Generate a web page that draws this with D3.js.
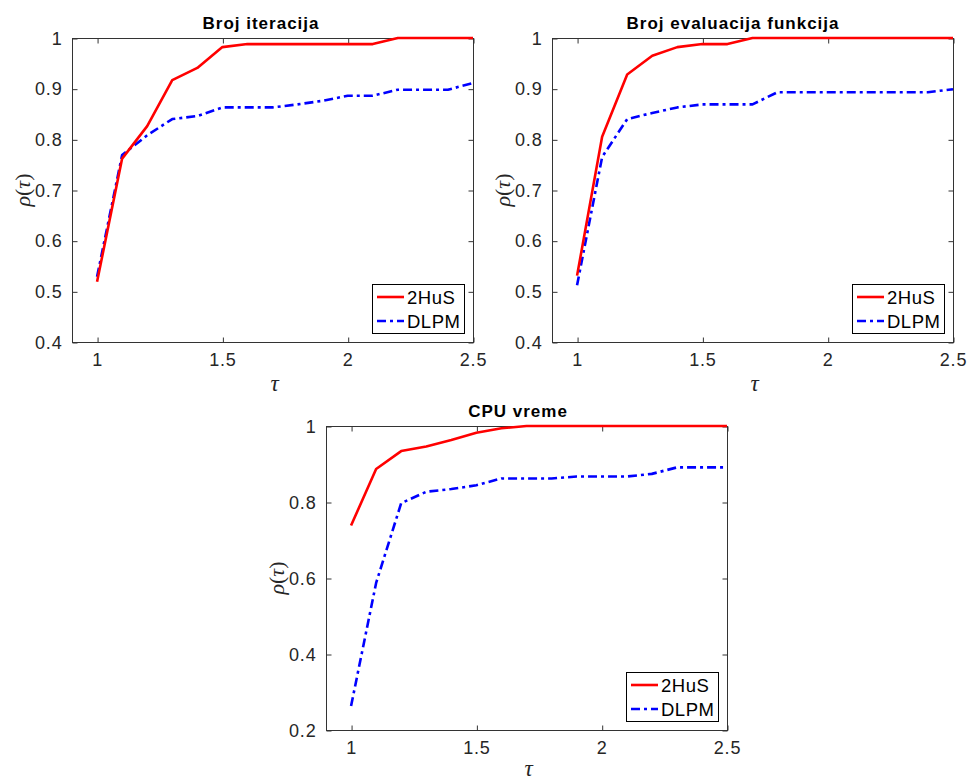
<!DOCTYPE html>
<html>
<head>
<meta charset="utf-8">
<script src="https://cdn.jsdelivr.net/npm/d3@7"></script>
<style>
  html, body { margin: 0; padding: 0; background: #fff; }
  svg { display: block; }
</style>
</head>
<body>
<svg id="chart" width="967" height="780"></svg>
<script>
// ---------------- data ----------------
const tau = [1, 1.1, 1.2, 1.3, 1.4, 1.5, 1.6, 1.7, 1.8, 1.9, 2.0, 2.1, 2.2, 2.3, 2.4, 2.5];

const iter2HuS = [0.519, 0.762, 0.826, 0.917, 0.941, 0.982, 0.988, 0.988, 0.988, 0.988, 0.988, 0.988, 1, 1, 1, 1];
const iterDLPM = [0.529, 0.769, 0.808, 0.840, 0.846, 0.863, 0.863, 0.863, 0.869, 0.876, 0.886, 0.886, 0.898, 0.898, 0.898, 0.911];

const eval2HuS = [0.531, 0.805, 0.928, 0.965, 0.982, 0.988, 0.988, 1, 1, 1, 1, 1, 1, 1, 1, 1];
const evalDLPM = [0.512, 0.765, 0.840, 0.852, 0.863, 0.869, 0.869, 0.869, 0.893, 0.893, 0.893, 0.893, 0.893, 0.893, 0.893, 0.899];

const cpu2HuS = [0.738, 0.887, 0.934, 0.946, 0.963, 0.982, 0.994, 1, 1, 1, 1, 1, 1, 1, 1, 1];
const cpuDLPM = [0.263, 0.587, 0.797, 0.827, 0.834, 0.844, 0.862, 0.862, 0.862, 0.867, 0.867, 0.867, 0.874, 0.891, 0.891, 0.891];

const xTicks = [1, 1.5, 2, 2.5];
const xTickLabels = ["1", "1.5", "2", "2.5"];
const yTicksTop = [0.4, 0.5, 0.6, 0.7, 0.8, 0.9, 1];
const yTickLabelsTop = ["0.4", "0.5", "0.6", "0.7", "0.8", "0.9", "1"];
const yTicksBottom = [0.2, 0.4, 0.6, 0.8, 1];
const yTickLabelsBottom = ["0.2", "0.4", "0.6", "0.8", "1"];

const seriesNames = ["2HuS", "DLPM"];
const titles = ["Broj iteracija", "Broj evaluacija funkcija", "CPU vreme"];

// ---------------- drawing ----------------
const svg = d3.select("#chart");
const W = 401, H = 304;
const SANS = "'Liberation Sans', Arial, Helvetica, sans-serif";
const SERIF = "'Liberation Serif', 'Times New Roman', serif";
const axisColor = "#333333";

const panels = [
  { left: 72,  top: 38,  yDomain: [0.4, 1], yTicks: yTicksTop, yLabels: yTickLabelsTop,
    s1: iter2HuS, s2: iterDLPM, title: titles[0], titleCx: 189, xlabDy: 49 },
  { left: 552, top: 38,  yDomain: [0.4, 1], yTicks: yTicksTop, yLabels: yTickLabelsTop,
    s1: eval2HuS, s2: evalDLPM, title: titles[1], titleCx: 181, xlabDy: 49 },
  { left: 326, top: 426, yDomain: [0.2, 1], yTicks: yTicksBottom, yLabels: yTickLabelsBottom,
    s1: cpu2HuS, s2: cpuDLPM, title: titles[2], titleCx: 192, xlabDy: 46 }
];

panels.forEach(p => {
  const g = svg.append("g").attr("transform", `translate(${p.left},${p.top})`);
  const x = d3.scaleLinear().domain([0.9, 2.5]).range([0, W]);
  const y = d3.scaleLinear().domain(p.yDomain).range([H, 0]);

  // box
  g.append("rect").attr("x", 0.5).attr("y", 0.5).attr("width", W).attr("height", H)
    .attr("fill", "none").attr("stroke", axisColor).attr("stroke-width", 1);

  const tl = 5;
  const xb = d3.axisBottom(x).tickValues(xTicks).tickSize(-tl).tickFormat("");
  const xt = d3.axisTop(x).tickValues(xTicks).tickSize(-tl).tickFormat("");
  const yl = d3.axisLeft(y).tickValues(p.yTicks).tickSize(-tl).tickFormat("");
  const yr = d3.axisRight(y).tickValues(p.yTicks).tickSize(-tl).tickFormat("");
  [[xb, `translate(0.5,${H + 0.5})`], [xt, "translate(0.5,0.5)"],
   [yl, "translate(0.5,0.5)"], [yr, `translate(${W + 0.5},0.5)`]].forEach(([ax, tr]) => {
    const a = g.append("g").attr("transform", tr).call(ax);
    a.select(".domain").remove();
    a.selectAll(".tick line").attr("stroke", axisColor);
  });

  // tick labels
  g.append("g").selectAll("text").data(xTicks).join("text")
    .attr("x", d => x(d) + 0.5).attr("y", H + 24)
    .attr("text-anchor", "middle")
    .attr("font-family", SANS).attr("font-size", 18).attr("letter-spacing", 0.8)
    .attr("fill", "#262626")
    .text((d, i) => xTickLabels[i]);

  g.append("g").selectAll("text").data(p.yTicks).join("text")
    .attr("x", -9.5).attr("y", d => y(d) + 6.5)
    .attr("text-anchor", "end")
    .attr("font-family", SANS).attr("font-size", 18).attr("letter-spacing", 0.8)
    .attr("fill", "#262626")
    .text((d, i) => p.yLabels[i]);

  // title
  g.append("text").attr("x", p.titleCx).attr("y", -9)
    .attr("text-anchor", "middle")
    .attr("font-family", SANS).attr("font-weight", "bold").attr("font-size", 17)
    .attr("letter-spacing", 1.0).attr("fill", "#000")
    .text(p.title);

  // x label tau
  g.append("text").attr("x", W / 2 + 2).attr("y", H + p.xlabDy)
    .attr("text-anchor", "middle")
    .attr("font-family", SERIF).attr("font-style", "italic").attr("font-size", 23)
    .attr("fill", "#262626")
    .text("τ");

  // y label rho(tau)
  const yt = g.append("text")
    .attr("transform", `translate(-42,${H / 2}) rotate(-90)`)
    .attr("text-anchor", "middle")
    .attr("font-family", SERIF).attr("font-size", 22).attr("fill", "#262626");
  yt.append("tspan").attr("font-style", "italic").text("ρ");
  yt.append("tspan").text("(");
  yt.append("tspan").attr("font-style", "italic").text("τ");
  yt.append("tspan").text(")");

  // lines
  const line = d3.line().x((d, i) => x(tau[i])).y(d => y(d));
  g.append("path").datum(p.s2).attr("d", line)
    .attr("fill", "none").attr("stroke", "#0000ff").attr("stroke-width", 2.6)
    .attr("stroke-dasharray", "9,4,3,4").attr("stroke-linejoin", "round");
  g.append("path").datum(p.s1).attr("d", line)
    .attr("fill", "none").attr("stroke", "#ff0000").attr("stroke-width", 2.6)
    .attr("stroke-linejoin", "round");

  // legend
  const lw = 92, lh = 49;
  const lg = g.append("g").attr("transform", `translate(${W - 9 - lw},${H - 9 - lh})`);
  lg.append("rect").attr("x", 0.5).attr("y", 0.5).attr("width", lw).attr("height", lh)
    .attr("fill", "#fff").attr("stroke", "#000").attr("stroke-width", 1);
  const rows = [
    { name: seriesNames[0], color: "#ff0000", dash: null },
    { name: seriesNames[1], color: "#0000ff", dash: "9,4,3,4" }
  ];
  rows.forEach((r, i) => {
    const cy = 13 + i * 24;
    lg.append("line").attr("x1", 5).attr("x2", 32).attr("y1", cy).attr("y2", cy)
      .attr("stroke", r.color).attr("stroke-width", 2.6)
      .attr("stroke-dasharray", r.dash);
    lg.append("text").attr("x", 35).attr("y", cy + 7)
      .attr("font-family", SANS).attr("font-size", 18.5).attr("letter-spacing", 0.5)
      .attr("fill", "#000").text(r.name);
  });
});
</script>
</body>
</html>
